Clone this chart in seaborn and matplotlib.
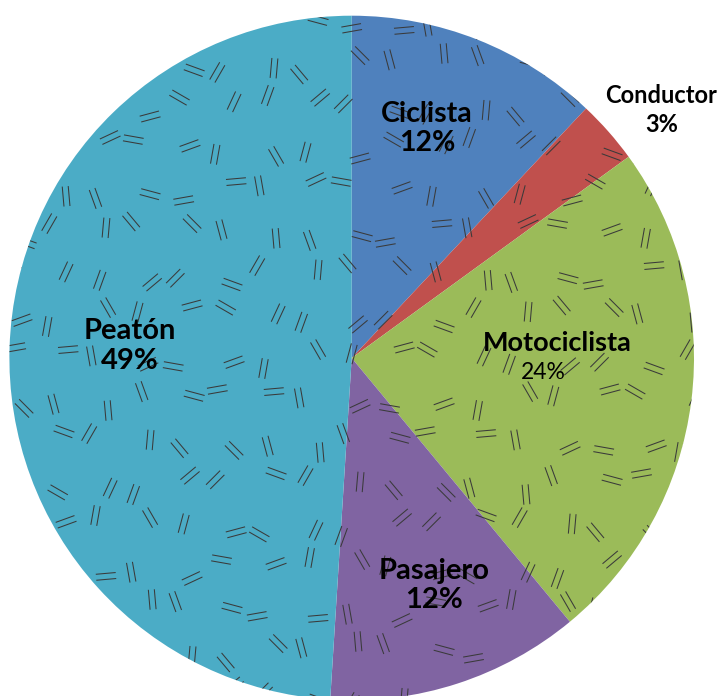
import numpy as np
import matplotlib
matplotlib.use("Agg")
import matplotlib.pyplot as plt
import seaborn as sns
from matplotlib.collections import LineCollection
from matplotlib.patches import Circle

# chart data
categories = ["Ciclista", "Conductor", "Motociclista", "Pasajero", "Peatón"]
shares = [12, 3, 24, 12, 49]
colors = ["#4F81BD", "#C0504D", "#9BBB59", "#8064A2", "#4BACC6"]

# label layout (data units, pie radius = 1)
label_pos = [(0.22, 0.67), (0.905, 0.725), (0.60, 0.0), (0.24, -0.665), (-0.648, 0.035)]
pct_dx = [0.0, 0.0, -0.04, 0.0, 0.0]
name_size = [20.5, 17, 19.5, 21, 21]
pct_bold = [True, True, False, True, True]
pct_size = [20.5, 17, 16.5, 21, 21]

sns.set_theme(style="white")
plt.rcParams["font.family"] = ["Lato", "DejaVu Sans"]

R_PX = 342.3
CX, CY = 351.7, 358.0
W, H = 719, 696

fig = plt.figure(figsize=(W / 100, H / 100), dpi=100)
ax = fig.add_axes([0, 0, 1, 1])

wedges, _ = ax.pie(
    shares,
    colors=colors,
    startangle=90,
    counterclock=False,
    radius=1,
    wedgeprops={"linewidth": 0},
)

# "divot" style texture: short double strokes at varying angles
tile_angles = [75, 160, 110, 20, 70, 135, 100, 15, 60, 165, 80, 40,
               105, 25, 150, 85, 10, 120, 45, 95, 170, 65, 130, 5]
tile_jx = [0.0, 0.25, -0.2, 0.15, -0.25, 0.2, -0.1, 0.2]
tile_jy = [0.1, -0.2, 0.25, -0.1, 0.2, -0.25, 0.05, 0.2, -0.15]
step = 42 / R_PX
half_len = 10 / R_PX
gap = 3.0 / R_PX
segs = []
n = int(1.1 / step) + 1
for i in range(-n, n + 1):
    for j in range(-n, n + 1):
        k = (i * 7 + j * 11) % len(tile_angles)
        a = np.deg2rad(tile_angles[k])
        x0 = i * step + tile_jx[(i + 3 * j) % len(tile_jx)] * step
        y0 = j * step + tile_jy[(2 * i + j) % len(tile_jy)] * step
        d = np.array([np.cos(a), np.sin(a)]) * half_len
        nv = np.array([-np.sin(a), np.cos(a)]) * gap
        for s in (-1, 1):
            c = np.array([x0, y0]) + s * nv
            segs.append([c - d, c + d])
lc = LineCollection(segs, colors="#3a3a3a", linewidths=0.75, zorder=3)
ax.add_collection(lc)
clip = Circle((0, 0), 1, transform=ax.transData)
lc.set_clip_path(clip)

for name, val, (x, y), dx, ns, pb, ps in zip(categories, shares, label_pos, pct_dx,
                                             name_size, pct_bold, pct_size):
    ax.text(x, y + 0.043, name, ha="center", va="center", fontsize=ns,
            fontweight="bold", color="black", zorder=5)
    ax.text(x + dx, y - 0.043, f"{val}%", ha="center", va="center", fontsize=ps,
            fontweight="bold" if pb else "normal", color="black", zorder=5)

ax.set_xlim(-CX / R_PX, (W - CX) / R_PX)
ax.set_ylim(-(H - CY) / R_PX, CY / R_PX)
ax.set_aspect("equal", adjustable="box")
ax.axis("off")

fig.savefig("out.png", dpi=100)
plt.close(fig)
